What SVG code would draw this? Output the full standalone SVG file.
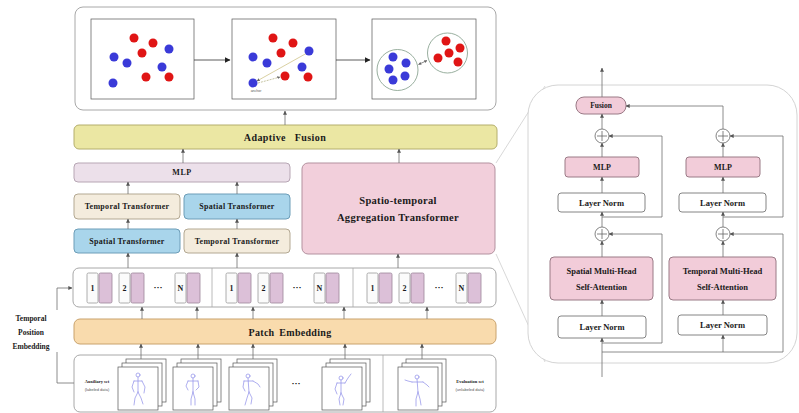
<svg xmlns="http://www.w3.org/2000/svg" width="799" height="413" viewBox="0 0 799 413">
  <defs>
    <style>
      .t{font-family:"Liberation Serif","DejaVu Serif",serif;font-weight:bold;fill:#1a1a1a;text-anchor:middle;dominant-baseline:central}
      .panel{fill:#fff;stroke:#a8a8a8;stroke-width:1}
      .box{fill:#fff;stroke:#777;stroke-width:0.9}
      .fuse{fill:#ebe7a3;stroke:#b4ae6c;stroke-width:1}
      .patch{fill:#f9dbad;stroke:#c9a26c;stroke-width:1}
      .mlpm{fill:#ece0ea;stroke:#b7a6b4;stroke-width:1}
      .temp{fill:#f4ecdd;stroke:#b3a892;stroke-width:1}
      .spat{fill:#a9d5eb;stroke:#6c9db8;stroke-width:1}
      .agg{fill:#f2cfdb;stroke:#b3919f;stroke-width:1}
      .pk{fill:#f2ccd9;stroke:#9a7a86;stroke-width:1}
      .tokw{fill:#fbfbfb;stroke:#9a9a9a;stroke-width:0.8}
      .tokp{fill:#dcc0d8;stroke:#9c869b;stroke-width:0.8}
      .c{fill:none;stroke:#6e6e6e;stroke-width:0.8}
      .ca{fill:none;stroke:#6e6e6e;stroke-width:0.8;marker-end:url(#ah)}
      .frame{fill:#fff;stroke:#555;stroke-width:0.7}
      .fig{fill:none;stroke:#9494ea;stroke-width:0.75;stroke-linecap:round;stroke-linejoin:round}
      .b{fill:#3a3ad8}
      .r{fill:#e01515}
      .small{font-family:"Liberation Sans","DejaVu Sans",sans-serif;fill:#555;text-anchor:middle;dominant-baseline:central}
    </style>
    <marker id="ah" viewBox="0 0 6 6" refX="5.5" refY="3" markerWidth="4" markerHeight="4" orient="auto" markerUnits="userSpaceOnUse">
      <path d="M0,0 L6,3 L0,6 z" fill="#555"/>
    </marker>
    <marker id="ahs" viewBox="0 0 6 6" refX="5.5" refY="3" markerWidth="3" markerHeight="3" orient="auto-start-reverse" markerUnits="userSpaceOnUse">
      <path d="M0,0 L6,3 L0,6 z" fill="#666"/>
    </marker>
    <marker id="ahb" viewBox="0 0 6 6" refX="5.5" refY="3" markerWidth="6" markerHeight="6" orient="auto" markerUnits="userSpaceOnUse">
      <path d="M0,0 L6,3 L0,6 z" fill="#222"/>
    </marker>
    <g id="plus">
      <circle r="7" fill="#fff" stroke="#666" stroke-width="0.8"/>
      <path d="M-5,0 H5 M0,-5 V5" stroke="#666" stroke-width="0.8"/>
    </g>
    <g id="stack">
      <rect class="frame" x="8" y="-8" width="40" height="43"/>
      <rect class="frame" x="4" y="-4" width="40" height="43"/>
      <rect class="frame" x="0" y="0" width="40" height="43"/>
    </g>
  </defs>

  <!-- clustering illustration panel -->
  <g id="cluster-panel">
    <rect class="panel" x="75" y="7" width="421" height="103" rx="8"/>
    <rect class="frame" x="91" y="19" width="103" height="80"/>
    <rect class="frame" x="232" y="19" width="104" height="80"/>
    <rect class="frame" x="372" y="19" width="104" height="80"/>
    <path d="M194,60 H230" stroke="#333" stroke-width="0.8" marker-end="url(#ahb)"/>
    <path d="M336,60 H370" stroke="#333" stroke-width="0.8" marker-end="url(#ahb)"/>
    <!-- raw samples -->
    <circle class="r" cx="134" cy="38" r="4.5"/>
    <circle class="r" cx="153" cy="43" r="4.5"/>
    <circle class="b" cx="169" cy="49" r="4.5"/>
    <circle class="r" cx="142" cy="53" r="4.5"/>
    <circle class="b" cx="114" cy="57" r="4.5"/>
    <circle class="b" cx="127" cy="63" r="4.5"/>
    <circle class="b" cx="162" cy="67" r="4.5"/>
    <circle class="r" cx="146" cy="77" r="4.5"/>
    <circle class="r" cx="169" cy="77" r="4.5"/>
    <circle class="b" cx="113" cy="83" r="4.5"/>
    <!-- anchor with positive / negative pairs -->
    <path d="M307,53 L257,81" stroke="#cfc48a" stroke-width="0.8" marker-end="url(#ahs)"/>
    <path d="M258,83 L280,77" stroke="#b8b58a" stroke-width="0.8" stroke-dasharray="2 1" marker-end="url(#ahs)"/>
    <circle class="r" cx="273" cy="38" r="4.5"/>
    <circle class="r" cx="293" cy="43" r="4.5"/>
    <circle class="b" cx="309" cy="51" r="4.5"/>
    <circle class="r" cx="281" cy="53" r="4.5"/>
    <circle class="b" cx="253" cy="57" r="4.5"/>
    <circle class="b" cx="267" cy="63" r="4.5"/>
    <circle class="b" cx="302" cy="67" r="4.5"/>
    <circle class="r" cx="285" cy="76" r="4.5"/>
    <circle class="r" cx="308" cy="77" r="4.5"/>
    <circle class="b" cx="253" cy="83" r="4.5"/>
    <text class="small" x="256" y="91" font-size="3.5">anchor</text>
    <!-- separated clusters -->
    <circle cx="397.5" cy="70" r="20.5" fill="#fff" stroke="#7f9a86" stroke-width="0.8"/>
    <circle cx="447.5" cy="53" r="20" fill="#fff" stroke="#7f9a86" stroke-width="0.8"/>
    <path d="M418.5,64.5 L427,60.5" stroke="#555" stroke-width="0.7" marker-start="url(#ahs)" marker-end="url(#ahs)"/>
    <circle class="b" cx="393" cy="57" r="4.5"/>
    <circle class="b" cx="406" cy="63" r="4.5"/>
    <circle class="b" cx="389" cy="69" r="4.5"/>
    <circle class="b" cx="405" cy="76" r="4.5"/>
    <circle class="b" cx="393" cy="80" r="4.5"/>
    <circle class="r" cx="446" cy="41" r="4.5"/>
    <circle class="r" cx="449" cy="53" r="4.5"/>
    <circle class="r" cx="460" cy="48" r="4.5"/>
    <circle class="r" cx="438" cy="58" r="4.5"/>
    <circle class="r" cx="458" cy="62" r="4.5"/>
  </g>

  <g id="adaptive-fusion">
    <rect class="fuse" x="74" y="125" width="423" height="24" rx="5"/>
    <text class="t" x="285" y="137.5" font-size="10" letter-spacing="0.4" word-spacing="6">Adaptive Fusion</text>
  </g>

  <g id="mlp">
    <rect class="mlpm" x="74" y="163" width="216" height="19" rx="4"/>
    <text class="t" x="182" y="172.5" font-size="8" letter-spacing="0.5">MLP</text>
  </g>

  <g id="temporal-transformer-a">
    <rect class="temp" x="74" y="194" width="106" height="25" rx="4"/>
    <text class="t" x="127" y="206.5" font-size="8" letter-spacing="0.3">Temporal Transformer</text>
  </g>
  <g id="spatial-transformer-b">
    <rect class="spat" x="184" y="194" width="106" height="25" rx="4"/>
    <text class="t" x="237" y="206.5" font-size="8" letter-spacing="0.3">Spatial Transformer</text>
  </g>
  <g id="spatial-transformer-a">
    <rect class="spat" x="74" y="229" width="106" height="24" rx="4"/>
    <text class="t" x="127" y="241" font-size="8" letter-spacing="0.3">Spatial Transformer</text>
  </g>
  <g id="temporal-transformer-b">
    <rect class="temp" x="184" y="229" width="106" height="24" rx="4"/>
    <text class="t" x="237" y="241" font-size="8" letter-spacing="0.3">Temporal Transformer</text>
  </g>

  <g id="aggregation-transformer">
    <rect class="agg" x="302" y="163" width="193" height="91" rx="6"/>
    <text class="t" x="398" y="200" font-size="10.5" letter-spacing="0.3">Spatio-temporal</text>
    <text class="t" x="398" y="217" font-size="10.5" letter-spacing="0.3">Aggregation Transformer</text>
  </g>

  <g id="tokens">
    <rect class="panel" x="73" y="268" width="423" height="39" rx="6"/>
    <path d="M212,268 V307 M353,268 V307" stroke="#a8a8a8" stroke-width="0.8"/>
    <g id="tokens-1">
      <rect class="tokw" x="87" y="273" width="11" height="30" rx="1.5"/><rect class="tokp" x="99" y="273" width="13" height="30" rx="1.5"/>
      <text class="t" x="92.5" y="288" font-size="8">1</text>
      <rect class="tokw" x="119" y="273" width="11" height="30" rx="1.5"/><rect class="tokp" x="131" y="273" width="13" height="30" rx="1.5"/>
      <text class="t" x="124.5" y="288" font-size="8">2</text>
      <text class="t" x="158" y="287" font-size="9">···</text>
      <rect class="tokw" x="175" y="273" width="11" height="30" rx="1.5"/><rect class="tokp" x="187" y="273" width="13" height="30" rx="1.5"/>
      <text class="t" x="180.5" y="288" font-size="8">N</text>
    </g>
    <g id="tokens-2">
      <rect class="tokw" x="226" y="273" width="11" height="30" rx="1.5"/><rect class="tokp" x="238" y="273" width="13" height="30" rx="1.5"/>
      <text class="t" x="231.5" y="288" font-size="8">1</text>
      <rect class="tokw" x="258" y="273" width="11" height="30" rx="1.5"/><rect class="tokp" x="270" y="273" width="13" height="30" rx="1.5"/>
      <text class="t" x="263.5" y="288" font-size="8">2</text>
      <text class="t" x="297" y="287" font-size="9">···</text>
      <rect class="tokw" x="314" y="273" width="11" height="30" rx="1.5"/><rect class="tokp" x="326" y="273" width="13" height="30" rx="1.5"/>
      <text class="t" x="319.5" y="288" font-size="8">N</text>
    </g>
    <g id="tokens-3">
      <rect class="tokw" x="367" y="273" width="11" height="30" rx="1.5"/><rect class="tokp" x="379" y="273" width="13" height="30" rx="1.5"/>
      <text class="t" x="372.5" y="288" font-size="8">1</text>
      <rect class="tokw" x="399" y="273" width="11" height="30" rx="1.5"/><rect class="tokp" x="411" y="273" width="13" height="30" rx="1.5"/>
      <text class="t" x="404.5" y="288" font-size="8">2</text>
      <text class="t" x="439" y="287" font-size="9">···</text>
      <rect class="tokw" x="456" y="273" width="11" height="30" rx="1.5"/><rect class="tokp" x="468" y="273" width="13" height="30" rx="1.5"/>
      <text class="t" x="461.5" y="288" font-size="8">N</text>
    </g>
  </g>

  <g id="patch-embedding">
    <rect class="patch" x="74" y="319" width="422" height="25" rx="6"/>
    <text class="t" x="290" y="332" font-size="10" letter-spacing="0.3" word-spacing="2">Patch Embedding</text>
  </g>

  <g id="temporal-position-embedding">
    <text class="t" x="31" y="318" font-size="7.5">Temporal</text>
    <text class="t" x="31" y="332" font-size="7.5">Position</text>
    <text class="t" x="31" y="346" font-size="7.5">Embedding</text>
  </g>

  <g id="skeleton-sequences">
    <rect class="panel" x="74" y="355" width="422" height="57" rx="6"/>
    <path d="M383,355 V412" stroke="#a8a8a8" stroke-width="0.8"/>
    <text class="t" x="97" y="381" font-size="4.5">Auxiliary set</text>
    <text class="small" x="97" y="389" font-size="4">(labeled data)</text>
    <text class="t" x="470" y="381" font-size="4.5">Evaluation set</text>
    <text class="small" x="470" y="389" font-size="4">(unlabeled data)</text>
    <text class="t" x="296" y="383" font-size="9">···</text>
    <g transform="translate(118,367)">
      <use href="#stack"/>
      <path class="fig" d="M20,10 V25 M16,14 H24 M16,14 L14,20 L16,25 M24,14 L27,20 L26,26 M20,25 L17,31 L16,38 M20,25 L23,31 L25,37"/>
      <circle class="fig" cx="20" cy="8" r="2"/>
    </g>
    <g transform="translate(173,367)">
      <use href="#stack"/>
      <path class="fig" d="M20,11 V25 M15,14 H25 M15,14 L13,19 L15,23 M25,14 L26,20 L23,23 M20,25 L18,32 L18,38 M20,25 L22,32 L22,38"/>
      <circle class="fig" cx="20" cy="9" r="2"/>
    </g>
    <g transform="translate(229,367)">
      <use href="#stack"/>
      <path class="fig" d="M19,11 L20,25 M15,14 H24 M15,14 L14,20 L16,24 M24,14 L29,17 L31,20 M20,25 L18,31 L16,38 M20,25 L23,31 L22,37"/>
      <circle class="fig" cx="19" cy="9" r="2"/>
    </g>
    <g transform="translate(322,367)">
      <use href="#stack"/>
      <path class="fig" d="M19,13 L19,26 M15,16 H23 M15,16 L13,22 L15,27 M23,16 L26,11 L29,7 M19,26 L17,32 L18,38 M19,26 L22,32 L21,38"/>
      <circle class="fig" cx="19" cy="11" r="2"/>
    </g>
    <g transform="translate(398,367)">
      <use href="#stack"/>
      <path class="fig" d="M19,12 L20,25 M14,15 H25 M14,15 L10,14 L7,13 M25,15 L29,18 L31,20 M20,25 L18,32 L18,39 M20,25 L22,32 L23,38"/>
      <circle class="fig" cx="19" cy="10" r="2"/>
    </g>
  </g>

  <!-- spatio-temporal aggregation block detail -->
  <g id="aggregation-detail">
    <path d="M496,163 L545,86 M496,254 L545,362" stroke="#d4d4d4" stroke-width="0.9" fill="none"/>
    <rect x="528" y="85" width="269" height="278" rx="30" fill="#fff" stroke="#d4d4d4" stroke-width="1"/>
  </g>

  <g id="fusion">
    <rect class="pk" x="576" y="97" width="50" height="17" rx="8"/>
    <text class="t" x="601" y="105.5" font-size="7.5">Fusion</text>
  </g>
  <g id="plus-s2"><use href="#plus" x="602" y="136"/></g>
  <g id="plus-t2"><use href="#plus" x="723" y="136"/></g>
  <g id="mlp-s">
    <rect class="pk" x="565" y="157" width="74" height="20" rx="3"/>
    <text class="t" x="602" y="167" font-size="8">MLP</text>
  </g>
  <g id="mlp-t">
    <rect class="pk" x="686" y="157" width="74" height="20" rx="3"/>
    <text class="t" x="723" y="167" font-size="8">MLP</text>
  </g>
  <g id="layernorm-s2">
    <rect class="box" x="558" y="193" width="87" height="19" rx="3"/>
    <text class="t" x="601.5" y="202.5" font-size="8.5">Layer Norm</text>
  </g>
  <g id="layernorm-t2">
    <rect class="box" x="679" y="193" width="87" height="19" rx="3"/>
    <text class="t" x="722.5" y="202.5" font-size="8.5">Layer Norm</text>
  </g>
  <g id="plus-s1"><use href="#plus" x="602" y="234"/></g>
  <g id="plus-t1"><use href="#plus" x="723" y="234"/></g>
  <g id="spatial-mhsa">
    <rect class="pk" x="550" y="257" width="103" height="43" rx="4"/>
    <text class="t" x="601.5" y="270.5" font-size="8.5">Spatial Multi-Head</text>
    <text class="t" x="601.5" y="287" font-size="8.5">Self-Attention</text>
  </g>
  <g id="temporal-mhsa">
    <rect class="pk" x="669" y="257" width="107" height="43" rx="4"/>
    <text class="t" x="722.5" y="270.5" font-size="8.5">Temporal Multi-Head</text>
    <text class="t" x="722.5" y="287" font-size="8.5">Self-Attention</text>
  </g>
  <g id="layernorm-s1">
    <rect class="box" x="558" y="316" width="88" height="22" rx="3"/>
    <text class="t" x="602" y="327" font-size="8.5">Layer Norm</text>
  </g>
  <g id="layernorm-t1">
    <rect class="box" x="678" y="315" width="89" height="20" rx="3"/>
    <text class="t" x="722.5" y="325" font-size="8.5">Layer Norm</text>
  </g>

  <g id="connectors">
    <!-- main column -->
    <path class="ca" d="M285,125 V111"/>
    <path class="ca" d="M183,163 V149"/>
    <path class="ca" d="M399,163 V149"/>
    <path class="ca" d="M128,194 V182"/>
    <path class="ca" d="M237,194 V182"/>
    <path class="ca" d="M128,229 V219"/>
    <path class="ca" d="M237,229 V219"/>
    <path class="ca" d="M128,268 V253"/>
    <path class="ca" d="M237,268 V253"/>
    <path class="ca" d="M398,268 V254"/>
    <path class="ca" d="M142,319 V307"/>
    <path class="ca" d="M197,319 V307"/>
    <path class="ca" d="M253,319 V307"/>
    <path class="ca" d="M344,319 V307"/>
    <path class="ca" d="M427,319 V307"/>
    <path class="ca" d="M141,359 V344"/>
    <path class="ca" d="M198,359 V344"/>
    <path class="ca" d="M253,359 V344"/>
    <path class="ca" d="M345,359 V344"/>
    <path class="ca" d="M422,359 V344"/>
    <!-- temporal position embedding -->
    <path class="c" d="M74,383 H57 V352"/>
    <path class="ca" d="M57,310 V288 H72"/>
    <!-- spatial branch -->
    <path class="ca" d="M602,377 V338"/>
    <path class="ca" d="M602,316 V300"/>
    <path class="ca" d="M602,257 V241"/>
    <path class="ca" d="M602,227 V212"/>
    <path class="ca" d="M602,193 V177"/>
    <path class="ca" d="M602,157 V143"/>
    <path class="ca" d="M602,129 V114"/>
    <path class="ca" d="M602,97 V68"/>
    <path class="ca" d="M602,343 H662 V234 H609"/>
    <path class="ca" d="M602,217 H662 V136 H609"/>
    <!-- temporal branch -->
    <path class="c" d="M602,352 H783"/>
    <path class="ca" d="M723,352 V335"/>
    <path class="ca" d="M723,315 V300"/>
    <path class="ca" d="M723,257 V241"/>
    <path class="ca" d="M723,227 V212"/>
    <path class="ca" d="M723,193 V177"/>
    <path class="ca" d="M723,157 V143"/>
    <path class="ca" d="M723,129 V106 H626"/>
    <path class="ca" d="M783,352 V234 H730"/>
    <path class="ca" d="M723,217 H783 V136 H730"/>
  </g>
</svg>
